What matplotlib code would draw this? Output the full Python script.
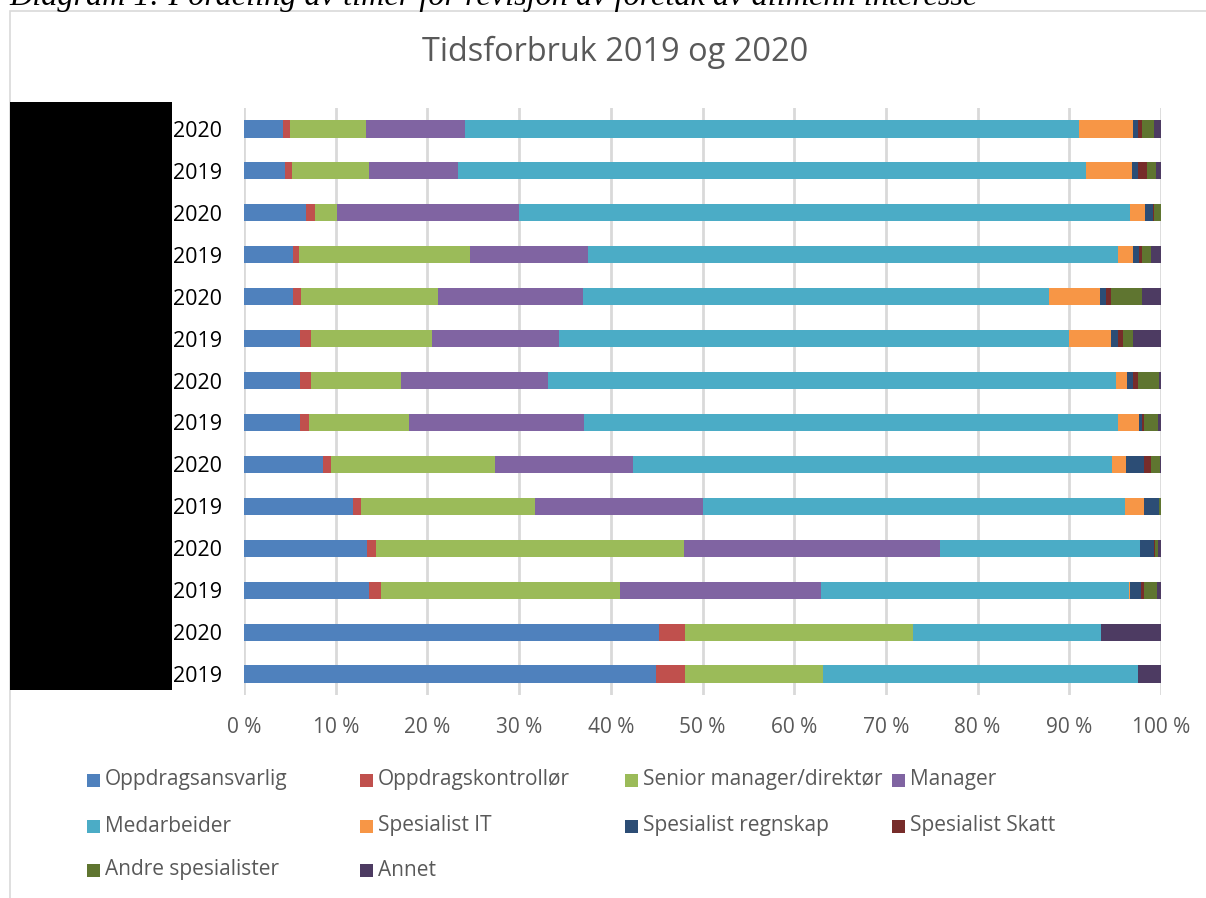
import matplotlib
matplotlib.use("Agg")
import matplotlib.pyplot as plt
from matplotlib.patches import Rectangle
import numpy as np

# Row labels, top to bottom
years = ["2020", "2019", "2020", "2019", "2020", "2019", "2020",
         "2019", "2020", "2019", "2020", "2019", "2020", "2019"]

series_names = ["Oppdragsansvarlig", "Oppdragskontrollør", "Senior manager/direktør",
                "Manager", "Medarbeider", "Spesialist IT", "Spesialist regnskap",
                "Spesialist Skatt", "Andre spesialister", "Annet"]

# Percentages per series, rows top to bottom
oppdragsansvarlig = [4.3, 4.5, 6.8, 5.3, 5.3, 6.1, 6.1, 6.1, 8.6, 11.9, 13.4, 13.6, 45.3, 44.9]
oppdragskontrollor = [0.7, 0.7, 0.9, 0.7, 0.9, 1.2, 1.2, 1.0, 0.9, 0.9, 1.0, 1.3, 2.8, 3.2]
senior_manager = [8.3, 8.4, 2.4, 18.7, 15.0, 13.2, 9.8, 10.9, 17.9, 18.9, 33.6, 26.1, 24.9, 15.0]
manager = [10.8, 9.7, 19.9, 12.8, 15.8, 13.8, 16.0, 19.1, 15.0, 18.4, 27.9, 21.9, 0.0, 0.0]
medarbeider = [67.0, 68.5, 66.6, 57.8, 50.8, 55.7, 62.0, 58.2, 52.3, 46.0, 21.8, 33.6, 20.5, 34.4]
spesialist_it = [5.9, 5.0, 1.7, 1.6, 5.5, 4.6, 1.2, 2.3, 1.5, 2.0, 0.0, 0.1, 0.0, 0.0]
spesialist_regnskap = [0.5, 0.7, 0.8, 0.7, 0.7, 0.7, 0.6, 0.3, 1.9, 1.7, 1.5, 1.2, 0.0, 0.0]
spesialist_skatt = [0.4, 1.0, 0.1, 0.3, 0.6, 0.6, 0.6, 0.3, 0.8, 0.0, 0.2, 0.3, 0.0, 0.0]
andre_spesialister = [1.3, 1.0, 0.8, 1.0, 3.3, 1.0, 2.3, 1.5, 1.0, 0.2, 0.3, 1.5, 0.0, 0.0]
annet = [0.8, 0.5, 0.1, 1.1, 2.1, 3.1, 0.2, 0.3, 0.1, 0.0, 0.3, 0.4, 6.5, 2.5]

series_values = [oppdragsansvarlig, oppdragskontrollor, senior_manager, manager,
                 medarbeider, spesialist_it, spesialist_regnskap, spesialist_skatt,
                 andre_spesialister, annet]

colors = ["#4F81BD", "#C0504D", "#9BBB59", "#8064A2", "#4BACC6",
          "#F79646", "#2C4D75", "#772C2A", "#5F7530", "#4D3B62"]

xticks = [0, 10, 20, 30, 40, 50, 60, 70, 80, 90, 100]
xtick_labels = [f"{t} %" for t in xticks]

FONT = ["Open Sans", "DejaVu Sans"]
GREY = "#595959"

W, H = 1206, 898
fig = plt.figure(figsize=(W / 100, H / 100), dpi=100)
fig.patch.set_facecolor("white")

def fx(px):
    return px / W

def fy(py):
    return 1 - py / H

# chart frame border
fig.add_artist(Rectangle((fx(10), fy(898 + 5)), fx(1206 + 5 - 10), fy(10.5) - fy(898 + 5),
                         transform=fig.transFigure, fill=False, edgecolor="#d9d9d9", lw=1.2))

# caption (clipped at top, as in the source)
fig.text(fx(9), fy(5), "Diagram 1: Fordeling av timer for revisjon av foretak av allmenn interesse",
         family="Liberation Serif", style="italic", fontsize=23.2, ha="left", va="baseline",
         color="black")

# title
fig.text(fx(615), fy(52), "Tidsforbruk 2019 og 2020", family=FONT, fontsize=23.4,
         color=GREY, ha="center", va="center")

ax = fig.add_axes([fx(244), fy(695), fx(1161) - fx(244), fy(108) - fy(695)])
n = len(years)
y = np.arange(n)
left = np.zeros(n)
for vals, col, name in zip(series_values, colors, series_names):
    v = np.array(vals)
    ax.barh(y, v, left=left, height=0.41, color=col, label=name, zorder=3)
    left += v

ax.set_xlim(0, 100)
ax.set_ylim(n - 0.5, -0.5)
ax.set_xticks(xticks)
ax.set_xticklabels(xtick_labels, family=FONT, fontsize=15, color=GREY)
ax.set_yticks(y)
ax.set_yticklabels(years, family=FONT, fontsize=15.5, color="black")
ax.tick_params(axis="both", length=0)
ax.tick_params(axis="x", pad=16)
ax.tick_params(axis="y", pad=16)
ax.grid(axis="x", color="#d9d9d9", lw=2, zorder=0)
for s in ax.spines.values():
    s.set_visible(False)

# redaction box over category labels
fig.add_artist(Rectangle((fx(10), fy(690)), fx(172) - fx(10), fy(102) - fy(690),
                         transform=fig.transFigure, facecolor="black", edgecolor="none", zorder=10))

# legend (manual layout, 4 columns)
col_x = [87, 360, 625, 892]
row_y = [780, 826, 870]
for i, (name, col) in enumerate(zip(series_names, colors)):
    r, c = divmod(i, 4)
    x0 = col_x[c]
    y0 = row_y[r]
    fig.add_artist(Rectangle((fx(x0), fy(y0 + 7)), fx(13), 13 / H,
                             transform=fig.transFigure, facecolor=col, edgecolor="none"))
    fig.text(fx(x0 + 18), fy(y0), name, family=FONT, fontsize=15, color=GREY,
             ha="left", va="center")

fig.savefig("out.png", dpi=100)
